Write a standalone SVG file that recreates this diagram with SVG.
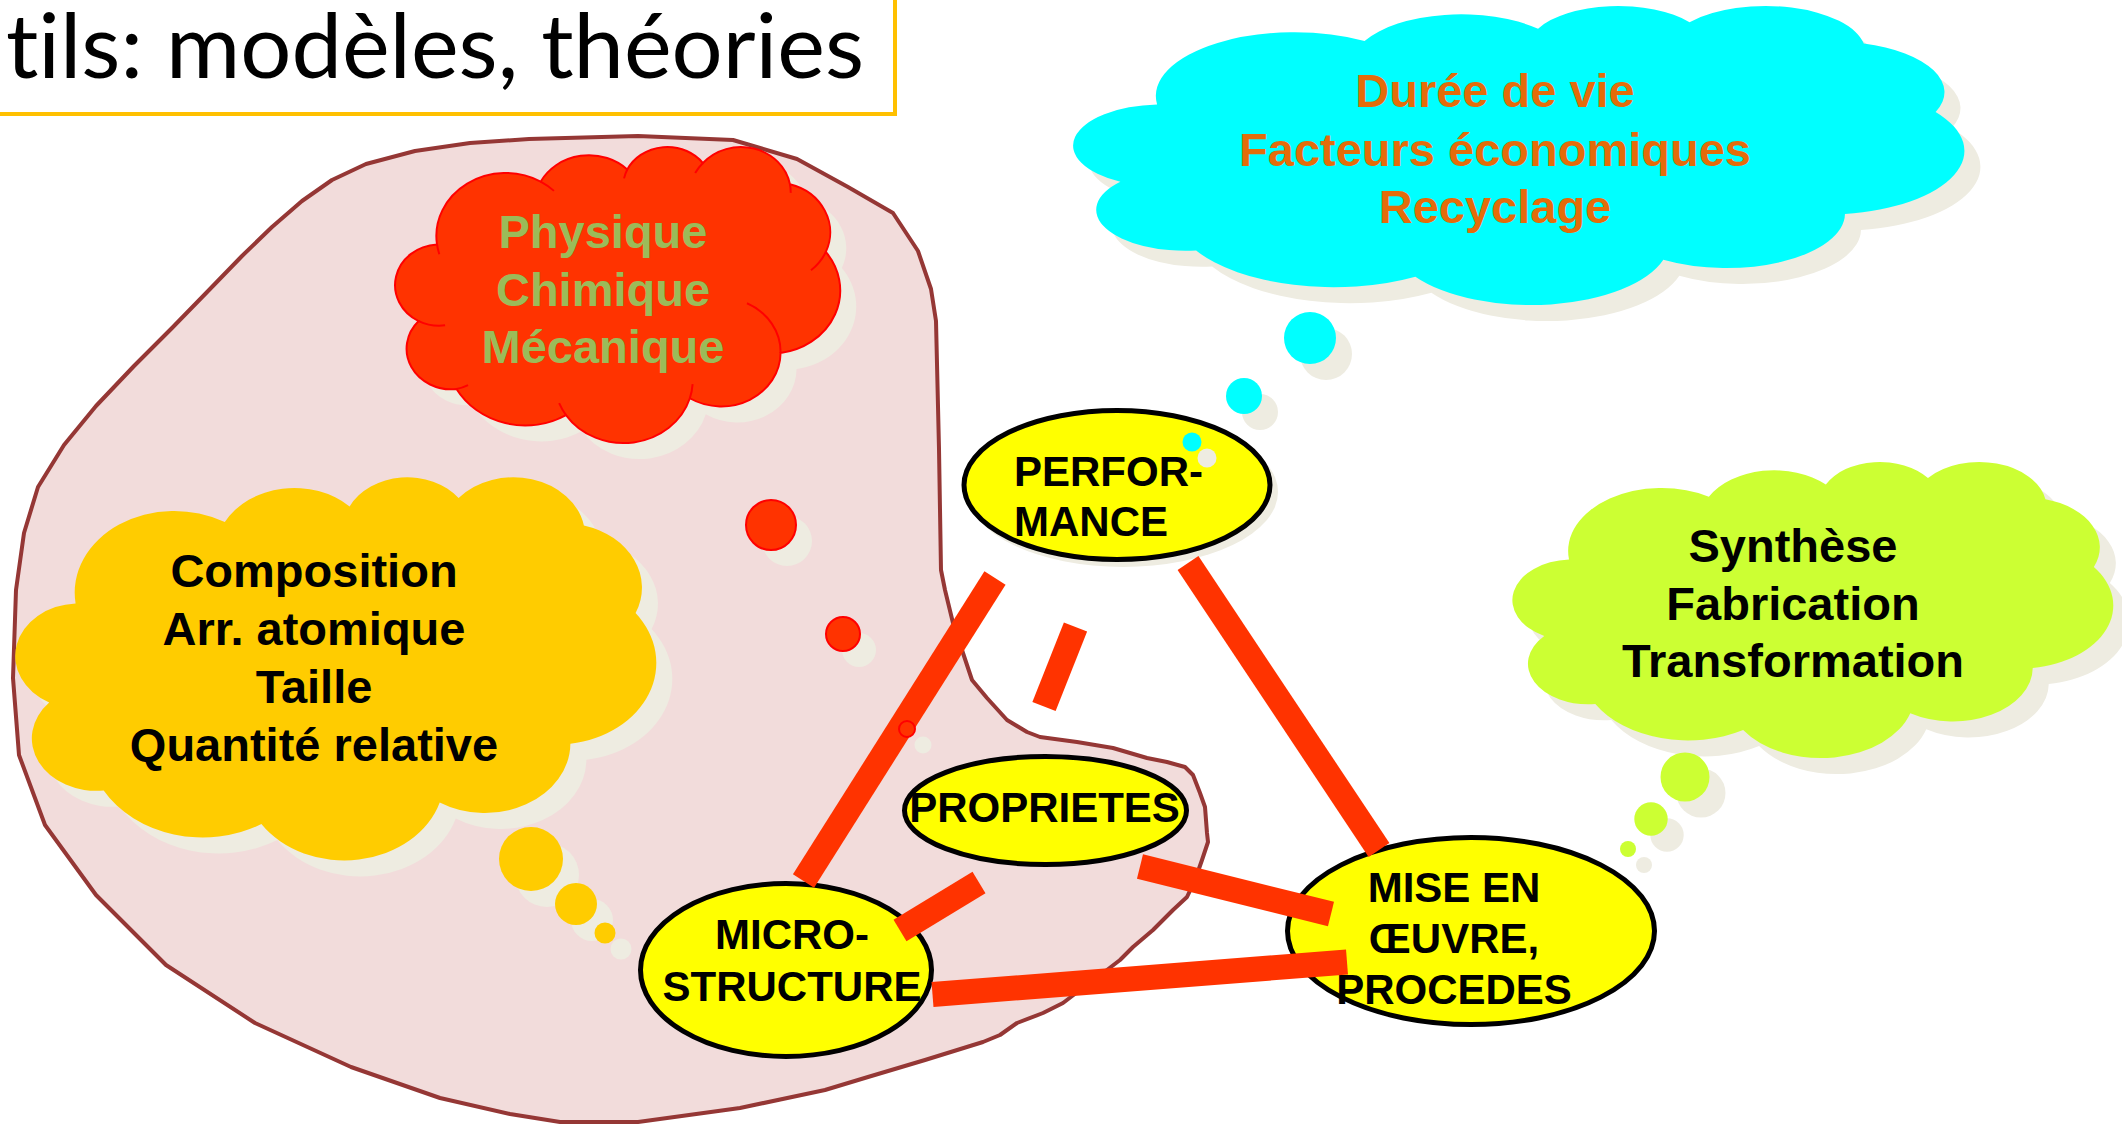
<svg xmlns="http://www.w3.org/2000/svg" xmlns:xlink="http://www.w3.org/1999/xlink" width="2122" height="1127" viewBox="0 0 2122 1127">
<style>
.sh{fill:#EEECE1}
.bar{stroke:#FF3300;stroke-width:25;fill:none}
.node{fill:#FFFF00;stroke:#000;stroke-width:5}
.t{font-family:"Liberation Sans",Arial,sans-serif;font-weight:bold;font-size:47px;text-anchor:middle}
.nt{font-family:"Liberation Sans",Arial,sans-serif;font-weight:bold;font-size:42px;fill:#000}
.stub{fill:none;stroke:#FF0000;stroke-width:2}
</style>
<defs>
<path id="cl" vector-effect="non-scaling-stroke" d="M90.3 332.6 A156.3 212.7 0 0 1 324.2 120.4 A123.5 168.2 0 0 1 519.8 79.5 A101.0 137.6 0 0 1 690.6 57.5 A112.4 152.7 0 0 1 887.0 129.1 A123.5 168.4 0 0 1 968.0 357.9 A156.8 213.4 0 0 1 865.8 699.2 A133.9 182.1 0 0 1 661.0 852.2 A156.3 213.3 0 0 1 381.5 908.9 A178.7 244.1 0 0 1 134.3 821.1 A100.9 137.0 0 0 1 48.9 591.4 A100.6 137.6 0 0 1 90.3 332.6 Z"/>
<path id="stubs" vector-effect="non-scaling-stroke" d="M108.6 605.9 A100.6 137.6 0 0 1 48.9 591.4 M160.4 807.9 A100.9 137.0 0 0 1 134.3 821.1 M381.5 908.9 A156.3 213.3 0 0 1 366.0 868.7 M667.3 804.4 A156.3 213.3 0 0 1 661.0 852.2 M790.0 531.3 A133.9 182.1 0 0 1 865.8 699.2 M968.0 357.9 A123.5 168.4 0 0 1 934.5 419.9 M887.0 129.1 A112.4 152.7 0 0 1 888.7 158.4 M673.1 91.5 A112.4 152.7 0 0 1 690.6 57.5 M512.5 109.3 A101.0 137.6 0 0 1 519.8 79.5 M324.2 120.4 A156.3 212.7 0 0 1 354.3 151.6 M95.5 365.5 A156.3 212.7 0 0 1 90.3 332.6"/>
</defs>

<g id="title">
<rect x="-10" y="-10" width="905" height="124" fill="#FFFFFF" stroke="#FFC000" stroke-width="4"/>
<text x="6" y="78" font-family="Lato, 'Open Sans', sans-serif" font-size="90" textLength="858" lengthAdjust="spacingAndGlyphs" style="font-variant-ligatures:none;font-feature-settings:'liga' 0" fill="#000">tils: modèles, théories</text>
</g>

<g id="blob">
<path fill="#F2DCDB" stroke="#953735" stroke-width="4" stroke-linejoin="round" d="M13 678 L16 590 L24 533 L38 487 L64 445 L96 406 L134 366 L172 328 L210 289 L242 256 L272 227 L302 201 L332 180 L366 164 L415 151 L470 143 L529 139 L638 136 L733 140 L797 159 L848 187 L893 213 L918 251 L931 289 L936 321 L939 449 L941 570 L945 590 L953 623 L963 653 L972 680 L987 698 L1007 720 L1027 732 L1040 737 L1077 742 L1113 748 L1147 758 L1167 762 L1185 767 L1193 775 L1200 793 L1205 807 L1207 833 L1208 842 L1202 860 L1195 880 L1187 897 L1173 910 L1153 930 L1133 947 L1120 960 L1107 970 L1080 990 L1063 1003 L1043 1013 L1017 1023 L1000 1035 L983 1042 L925 1060 L868 1077 L825 1090 L740 1108 L638 1122 L560 1122 L510 1114 L440 1098 L351 1067 L255 1023 L166 965 L96 895 L45 825 L19 755 Z"/>
</g>

<g id="node-performance">
<ellipse class="sh" cx="1123" cy="492" rx="155" ry="75"/>
<ellipse class="node" cx="1117" cy="485" rx="153" ry="74.5"/>
<text class="nt" x="1014" y="486">PERFOR-</text>
<text class="nt" x="1014" y="536">MANCE</text>
</g>
<g id="node-proprietes">
<ellipse class="node" cx="1045.5" cy="810.5" rx="141" ry="54"/>
<text class="nt" x="1044.5" y="822" text-anchor="middle">PROPRIETES</text>
</g>
<g id="node-microstructure">
<ellipse class="node" cx="786" cy="970" rx="145.5" ry="86.5"/>
<text class="nt" x="792" y="949" text-anchor="middle">MICRO-</text>
<text class="nt" x="792" y="1001" text-anchor="middle">STRUCTURE</text>
</g>
<g id="node-mise">
<ellipse class="node" cx="1471" cy="931" rx="183.5" ry="93.5"/>
<text class="nt" x="1454" y="902" text-anchor="middle">MISE EN</text>
<text class="nt" x="1454" y="953" text-anchor="middle">ŒUVRE,</text>
<text class="nt" x="1454" y="1004" text-anchor="middle">PROCEDES</text>
</g>

<g id="connectors">
<line class="bar" x1="995" y1="578" x2="803.5" y2="881"/>
<line class="bar" x1="1075.5" y1="627" x2="1044" y2="706.5"/>
<line class="bar" x1="1188" y1="563" x2="1379" y2="850"/>
<line class="bar" x1="900" y1="930.5" x2="979" y2="882.5"/>
<line class="bar" x1="1140" y1="866.5" x2="1331" y2="914"/>
<line class="bar" x1="932.5" y1="994.5" x2="1347" y2="962"/>
</g>

<g id="cloud-physique">
<use xlink:href="#cl" href="#cl" class="sh" transform="translate(413,162) scale(0.443,0.296)"/>
<circle class="sh" cx="787" cy="541" r="25"/>
<circle class="sh" cx="859" cy="650" r="17"/>
<circle class="sh" cx="923" cy="745" r="8.5"/>
<use xlink:href="#cl" href="#cl" fill="#FF3300" stroke="#FF0000" stroke-width="2" transform="translate(397,146) scale(0.443,0.296)"/>
<use xlink:href="#stubs" href="#stubs" class="stub" transform="translate(397,146) scale(0.443,0.296)"/>
<circle cx="771" cy="525" r="25" fill="#FF3300" stroke="#FF0000" stroke-width="2"/>
<circle cx="843" cy="634" r="17" fill="#FF3300" stroke="#FF0000" stroke-width="2"/>
<circle cx="907" cy="729" r="8" fill="#FF3300" stroke="#FF0000" stroke-width="2"/>
<text class="t" fill="#9BBB59" x="603" y="248">Physique</text>
<text class="t" fill="#9BBB59" x="603" y="306">Chimique</text>
<text class="t" fill="#9BBB59" x="603" y="363">Mécanique</text>
</g>

<g id="cloud-composition">
<use xlink:href="#cl" href="#cl" class="sh" transform="translate(34,492) scale(0.638,0.383)"/>
<circle class="sh" cx="547" cy="875" r="32"/>
<circle class="sh" cx="592" cy="920" r="21"/>
<circle class="sh" cx="621" cy="949" r="10.5"/>
<use xlink:href="#cl" href="#cl" fill="#FFCC00" transform="translate(18,476) scale(0.638,0.383)"/>
<circle cx="531" cy="859" r="32" fill="#FFCC00"/>
<circle cx="576" cy="904" r="21" fill="#FFCC00"/>
<circle cx="605" cy="933" r="10.5" fill="#FFCC00"/>
<text class="t" fill="#000" x="314" y="587">Composition</text>
<text class="t" fill="#000" x="314" y="645">Arr. atomique</text>
<text class="t" fill="#000" x="314" y="703">Taille</text>
<text class="t" fill="#000" x="314" y="761">Quantité relative</text>
</g>

<g id="cloud-duree">
<use xlink:href="#cl" href="#cl" class="sh" transform="translate(1093,21) scale(0.887,0.299)"/>
<circle class="sh" cx="1326" cy="354" r="26"/>
<circle class="sh" cx="1260" cy="412" r="18"/>
<circle class="sh" cx="1207" cy="458" r="9.5"/>
<use xlink:href="#cl" href="#cl" fill="#00FFFF" transform="translate(1077,5) scale(0.887,0.299)"/>
<circle cx="1310" cy="338" r="26" fill="#00FFFF"/>
<circle cx="1244" cy="396" r="18" fill="#00FFFF"/>
<circle cx="1192" cy="442" r="9.5" fill="#00FFFF"/>
<text class="t" fill="#E46C0A" x="1495" y="107">Durée de vie</text>
<text class="t" fill="#E46C0A" x="1495" y="166">Facteurs économiques</text>
<text class="t" fill="#E46C0A" x="1495" y="223">Recyclage</text>
</g>

<g id="cloud-synthese">
<use xlink:href="#cl" href="#cl" class="sh" transform="translate(1531,477) scale(0.598,0.296)"/>
<circle class="sh" cx="1701" cy="793" r="24.5"/>
<circle class="sh" cx="1667" cy="835" r="16.7"/>
<circle class="sh" cx="1644" cy="865" r="8"/>
<use xlink:href="#cl" href="#cl" fill="#CCFF33" transform="translate(1515,461) scale(0.598,0.296)"/>
<circle cx="1685" cy="777" r="24.5" fill="#CCFF33"/>
<circle cx="1651" cy="819" r="16.7" fill="#CCFF33"/>
<circle cx="1628" cy="849" r="8" fill="#CCFF33"/>
<text class="t" fill="#000" x="1793" y="562">Synthèse</text>
<text class="t" fill="#000" x="1793" y="620">Fabrication</text>
<text class="t" fill="#000" x="1793" y="677">Transformation</text>
</g>
</svg>
